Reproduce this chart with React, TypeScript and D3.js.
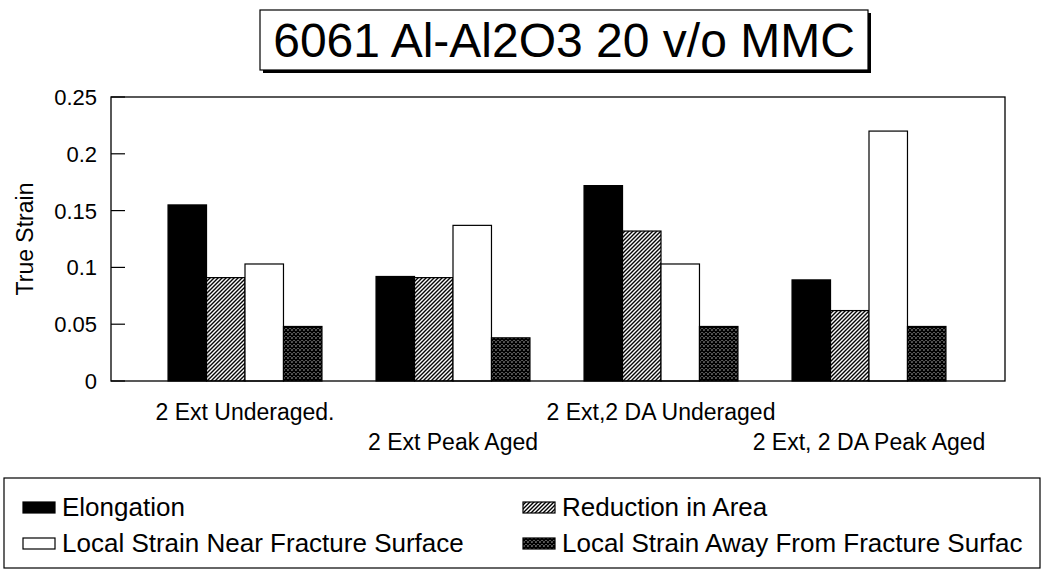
import React from "react";
import * as d3 from "d3";

// Specimen conditions along the x axis
const categories = [
  "2 Ext Underaged.",
  "2 Ext Peak Aged",
  "2 Ext,2 DA Underaged",
  "2 Ext, 2 DA Peak Aged",
];

// Measured true strain per condition
const elongation = [0.155, 0.092, 0.172, 0.089];
const reductionInArea = [0.091, 0.091, 0.132, 0.062];
const strainNearFracture = [0.103, 0.137, 0.103, 0.22];
const strainAwayFromFracture = [0.048, 0.038, 0.048, 0.048];

const seriesNames = [
  "Elongation",
  "Reduction in Area",
  "Local Strain Near Fracture Surface",
  "Local Strain Away From Fracture Surfac",
];
const seriesValues = [elongation, reductionInArea, strainNearFracture, strainAwayFromFracture];

const yTicks = [0, 0.05, 0.1, 0.15, 0.2, 0.25];
const yTickLabels = ["0", "0.05", "0.1", "0.15", "0.2", "0.25"];

const W = 1041;
const H = 571;
const FONT = "'Liberation Sans', Arial, Helvetica, sans-serif";

const frame = { left: 111, right: 1005, top: 97, bottom: 381 };

const fills = ["#000", "url(#hatch)", "#fff", "url(#mesh)"];

export default function App() {
  const x0 = d3
    .scaleBand<string>()
    .domain(categories)
    .range([141, 973])
    .paddingInner(0.26)
    .paddingOuter(0.13);
  const x1 = d3
    .scaleBand<number>()
    .domain(d3.range(seriesNames.length))
    .range([0, x0.bandwidth()]);
  const y = d3.scaleLinear().domain([0, 0.25]).range([frame.bottom, frame.top]);

  return (
    <svg
      width={W}
      height={H}
      style={{ position: "fixed", left: 0, top: 0, background: "#fff" }}
      fontFamily={FONT}
    >
      <defs>
        <pattern id="hatch" width="4" height="4" patternUnits="userSpaceOnUse">
          <rect width="4" height="4" fill="#fff" />
          <path d="M-1,1 l2,-2 M0,4 l4,-4 M3,5 l2,-2" stroke="#000" strokeWidth="1.4" />
        </pattern>
        <pattern id="mesh" width="4" height="4" patternUnits="userSpaceOnUse">
          <rect width="4" height="4" fill="#fff" />
          <path d="M0,0 L4,4 M4,0 L0,4" stroke="#000" strokeWidth="1.6" />
        </pattern>
      </defs>

      {/* Title box with drop shadow */}
      <rect x={263} y={13} width={608} height={60} fill="#000" />
      <rect x={260} y={10} width={608} height={60} fill="#fff" stroke="#000" strokeWidth={1.2} />
      <text x={564} y={57} textAnchor="middle" fontSize={48}>
        6061 Al-Al2O3 20 v/o MMC
      </text>

      {/* Bars */}
      {categories.map((c, ci) => (
        <g key={c} transform={`translate(${x0(c)},0)`}>
          {seriesValues.map((vals, si) => (
            <rect
              key={si}
              x={x1(si)}
              y={y(vals[ci])}
              width={x1.bandwidth()}
              height={y(0) - y(vals[ci])}
              fill={fills[si]}
              stroke="#000"
              strokeWidth={1.2}
            />
          ))}
        </g>
      ))}

      {/* Plot frame */}
      <rect
        x={frame.left}
        y={frame.top}
        width={frame.right - frame.left}
        height={frame.bottom - frame.top}
        fill="none"
        stroke="#000"
        strokeWidth={1.3}
      />

      {/* Y axis ticks and labels */}
      {yTicks.map((t, i) => (
        <g key={t}>
          <line x1={frame.left} x2={frame.left + 14} y1={y(t)} y2={y(t)} stroke="#000" strokeWidth={1.2} />
          <text x={97} y={y(t)} dy="0.36em" textAnchor="end" fontSize={22}>
            {yTickLabels[i]}
          </text>
        </g>
      ))}
      <text
        transform={`translate(33,${(frame.top + frame.bottom) / 2}) rotate(-90)`}
        textAnchor="middle"
        fontSize={23}
      >
        True Strain
      </text>

      {/* Category labels, staggered on two rows */}
      {categories.map((c, ci) => (
        <text
          key={c}
          x={(x0(c) as number) + x0.bandwidth() / 2}
          y={ci % 2 === 0 ? 420 : 450}
          textAnchor="middle"
          fontSize={23}
        >
          {c}
        </text>
      ))}

      {/* Legend */}
      <rect x={4} y={478} width={1036} height={90} fill="none" stroke="#000" strokeWidth={1.2} />
      {seriesNames.map((name, si) => {
        const col = si === 0 || si === 2 ? 0 : 1;
        const row = si < 2 ? 0 : 1;
        const lx = col === 0 ? 23 : 523;
        const ly = row === 0 ? 516 : 552;
        return (
          <g key={name}>
            <rect x={lx} y={ly - 14} width={32} height={11} fill={fills[si]} stroke="#000" strokeWidth={1.2} />
            <text x={lx + 39} y={ly} fontSize={26}>
              {name}
            </text>
          </g>
        );
      })}
    </svg>
  );
}
